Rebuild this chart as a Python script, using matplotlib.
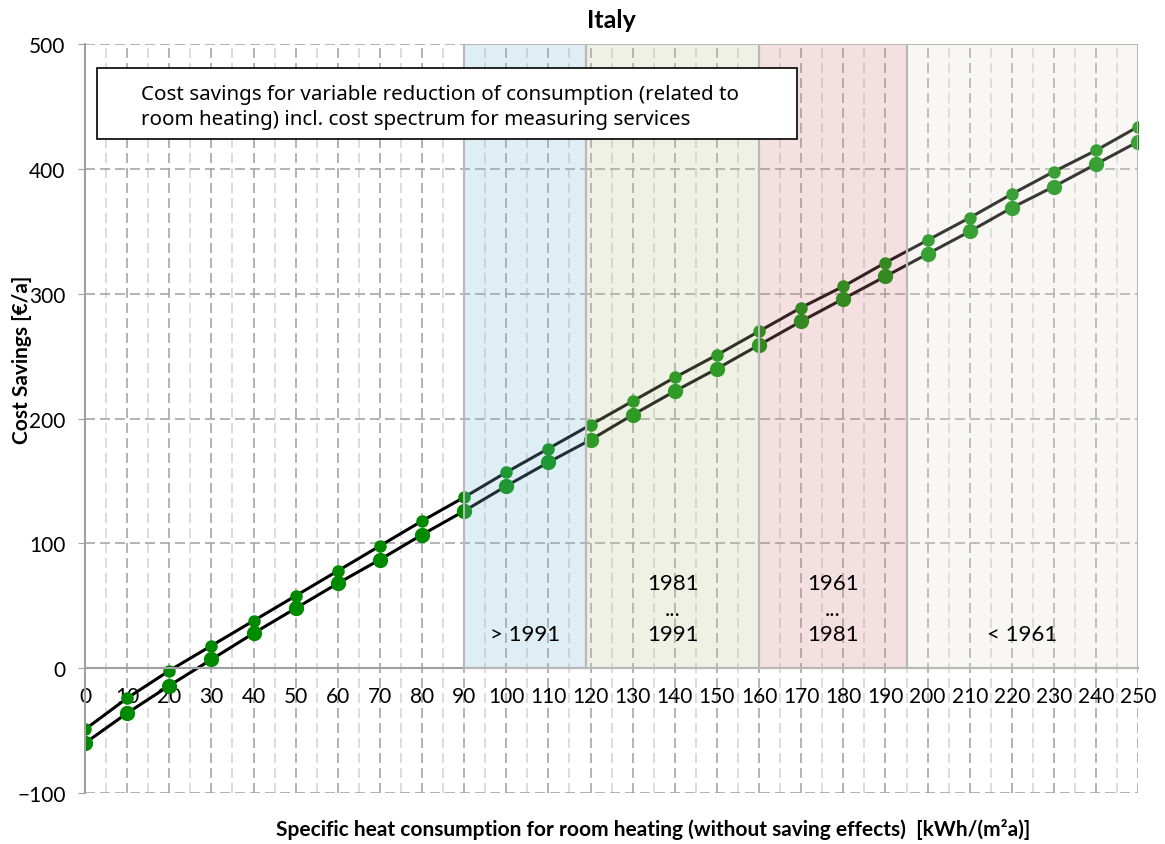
import matplotlib.pyplot as plt
from matplotlib.patches import Rectangle
from matplotlib.ticker import MultipleLocator

# heat consumption [kWh/(m2a)] and savings [EUR/a]
consumption = [0, 10, 20, 30, 40, 50, 60, 70, 80, 90, 100, 110, 120,
               130, 140, 150, 160, 170, 180, 190, 200, 210, 220, 230, 240, 250]
savings_high = [-49, -24, -2, 18, 38, 58, 78, 98, 118, 137, 157, 176, 195,
                214, 233, 251, 270, 289, 306, 325, 343, 361, 380, 398, 415, 434]
savings_low = [-60, -36, -14, 7, 28, 48, 68, 87, 107, 126, 146, 165, 183,
               203, 222, 240, 259, 278, 296, 314, 332, 350, 369, 386, 404, 422]

# building age bands
band_edges = [90, 119, 160, 195, 250]
band_labels = ["> 1991", "1981\n...\n1991", "1961\n...\n1981", "< 1961"]
band_colors = ["#7fbfd7", "#bfcb97", "#d78787", "#e7e3d7"]

plt.rcParams['font.family'] = ['Lato', 'DejaVu Sans']

fig = plt.figure(figsize=(11.65, 8.45), dpi=100)
ax = fig.add_axes([0.073, 0.0604, 0.904, 0.886])
ax.set_xlim(0, 250)
ax.set_ylim(-100, 500)

ax.xaxis.set_major_locator(MultipleLocator(10))
ax.xaxis.set_minor_locator(MultipleLocator(5))
ax.yaxis.set_major_locator(MultipleLocator(100))

dash = (0, (6, 3))
ax.grid(which='major', axis='x', color='#a6a6a6', ls=dash, lw=1.2)
ax.grid(which='minor', axis='x', color='#d6d6d6', ls=dash, lw=1.2)
ax.grid(which='major', axis='y', color='#a6a6a6', ls=dash, lw=1.2)
ax.set_axisbelow(True)

for s in ['top', 'right']:
    ax.spines[s].set_visible(False)
ax.spines['left'].set_color('#a0a0a0')
ax.spines['left'].set_linewidth(1.5)
ax.spines['bottom'].set_position(('data', 0))
ax.spines['bottom'].set_color('#a0a0a0')
ax.spines['bottom'].set_linewidth(1.5)

ax.tick_params(axis='x', which='both', length=0, pad=13, labelsize=15)
ax.tick_params(axis='y', which='major', length=5, color='#a0a0a0', pad=9, labelsize=15)

# curves
ax.plot(consumption, savings_high, color='black', lw=2.2, marker='o', ms=8,
        mfc='#008a00', mec='#008a00', zorder=2)
ax.plot(consumption, savings_low, color='black', lw=2.2, marker='o', ms=10,
        mfc='#008a00', mec='#008a00', zorder=2)

# shaded bands drawn over the curves
for i in range(len(band_labels)):
    x0, x1 = band_edges[i], band_edges[i + 1]
    ax.add_patch(Rectangle((x0, 0), x1 - x0, 500, facecolor=band_colors[i],
                           alpha=0.25, edgecolor='none', zorder=3))
    ax.add_patch(Rectangle((x0, 0), x1 - x0, 500, facecolor='none',
                           edgecolor='#b8b8b8', lw=1.5, zorder=3))
    ax.text((x0 + x1) / 2, 19, band_labels[i], ha='center', va='bottom',
            fontsize=16, linespacing=1.35, zorder=4)

# info box
ax.add_patch(Rectangle((2.85, 424), 166.2, 57, facecolor='white',
                       edgecolor='black', lw=1.2, zorder=5))
ax.text(13.3, 450, "Cost savings for variable reduction of consumption (related to\n"
        "room heating) incl. cost spectrum for measuring services",
        family=['Noto Sans', 'DejaVu Sans'], fontsize=14.8, va='center', ha='left',
        linespacing=1.35, zorder=6)

fig.text(0.525, 1 - 20 / 845, "Italy", ha='center', va='center',
         fontsize=18, fontweight='bold')
fig.text(653 / 1165, 1 - 830 / 845,
         "Specific heat consumption for room heating (without saving effects)  [kWh/(m²a)]",
         ha='center', va='center', fontsize=15, fontweight='bold')
fig.text(22 / 1165, 1 - 360 / 845, "Cost Savings [€/a]", ha='center', va='center',
         rotation=90, fontsize=15, fontweight='bold')

plt.savefig("out.png", dpi=100)
